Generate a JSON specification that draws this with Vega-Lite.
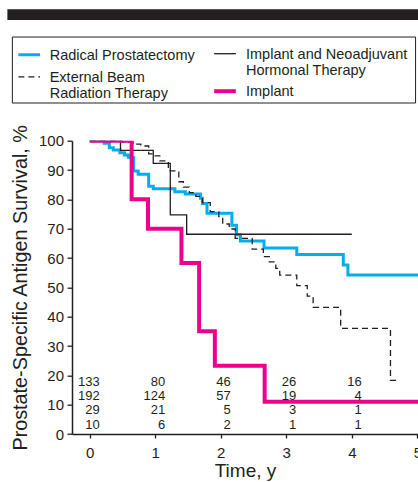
{
  "$schema": "https://vega.github.io/schema/vega-lite/v6.json",
  "width": 346,
  "height": 293.3,
  "autosize": {"type": "none"},
  "padding": {"left": 72, "top": 140.7, "right": 0, "bottom": 48},
  "config": {
    "font": "Liberation Sans",
    "view": {"stroke": null},
    "axis": {
      "grid": false,
      "domainColor": "#231f20",
      "domainWidth": 1.5,
      "tickColor": "#231f20",
      "tickWidth": 1.3,
      "labelColor": "#231f20",
      "labelFontSize": 15,
      "titleColor": "#231f20",
      "titleFontWeight": "normal"
    },
    "legend": {
      "orient": "none",
      "symbolType": "stroke",
      "symbolSize": 470,
      "labelFontSize": 14.5,
      "labelColor": "#231f20",
      "labelLimit": 400,
      "labelOffset": 8,
      "labelBaseline": "top",
      "labelLineHeight": 15.5,
      "padding": 0,
      "rowPadding": 3.8
    }
  },
  "datasets": {
    "curves": [
      {"s": "Radical Prostatectomy", "t": 0, "v": 100},
      {"s": "Radical Prostatectomy", "t": 0.22, "v": 99.1},
      {"s": "Radical Prostatectomy", "t": 0.3, "v": 97.6},
      {"s": "Radical Prostatectomy", "t": 0.36, "v": 96.8},
      {"s": "Radical Prostatectomy", "t": 0.46, "v": 95.9},
      {"s": "Radical Prostatectomy", "t": 0.53, "v": 95.1},
      {"s": "Radical Prostatectomy", "t": 0.59, "v": 94.4},
      {"s": "Radical Prostatectomy", "t": 0.67, "v": 89.7},
      {"s": "Radical Prostatectomy", "t": 0.74, "v": 88.6},
      {"s": "Radical Prostatectomy", "t": 0.9, "v": 84.5},
      {"s": "Radical Prostatectomy", "t": 0.97, "v": 83.6},
      {"s": "Radical Prostatectomy", "t": 1.3, "v": 82.6},
      {"s": "Radical Prostatectomy", "t": 1.46, "v": 81.8},
      {"s": "Radical Prostatectomy", "t": 1.69, "v": 80.4},
      {"s": "Radical Prostatectomy", "t": 1.72, "v": 78.6},
      {"s": "Radical Prostatectomy", "t": 1.79, "v": 75.3},
      {"s": "Radical Prostatectomy", "t": 2.17, "v": 71.2},
      {"s": "Radical Prostatectomy", "t": 2.24, "v": 67.9},
      {"s": "Radical Prostatectomy", "t": 2.3, "v": 65.8},
      {"s": "Radical Prostatectomy", "t": 2.66, "v": 63.4},
      {"s": "Radical Prostatectomy", "t": 3.16, "v": 61.2},
      {"s": "Radical Prostatectomy", "t": 3.87, "v": 57.6},
      {"s": "Radical Prostatectomy", "t": 3.94, "v": 54.2},
      {"s": "Radical Prostatectomy", "t": 5.5, "v": 54.2},
      {"s": "External Beam Radiation Therapy", "t": 0, "v": 100},
      {"s": "External Beam Radiation Therapy", "t": 0.5, "v": 99.5},
      {"s": "External Beam Radiation Therapy", "t": 0.66, "v": 98.8},
      {"s": "External Beam Radiation Therapy", "t": 0.78, "v": 98.2},
      {"s": "External Beam Radiation Therapy", "t": 0.9, "v": 95.5},
      {"s": "External Beam Radiation Therapy", "t": 1.0, "v": 94.8},
      {"s": "External Beam Radiation Therapy", "t": 1.07, "v": 93.1},
      {"s": "External Beam Radiation Therapy", "t": 1.2, "v": 89.7},
      {"s": "External Beam Radiation Therapy", "t": 1.36, "v": 86.0},
      {"s": "External Beam Radiation Therapy", "t": 1.43, "v": 84.2},
      {"s": "External Beam Radiation Therapy", "t": 1.52, "v": 82.3},
      {"s": "External Beam Radiation Therapy", "t": 1.62, "v": 81.0},
      {"s": "External Beam Radiation Therapy", "t": 1.72, "v": 78.9},
      {"s": "External Beam Radiation Therapy", "t": 1.84, "v": 75.8},
      {"s": "External Beam Radiation Therapy", "t": 1.97, "v": 74.1},
      {"s": "External Beam Radiation Therapy", "t": 2.03, "v": 71.6},
      {"s": "External Beam Radiation Therapy", "t": 2.13, "v": 69.9},
      {"s": "External Beam Radiation Therapy", "t": 2.22, "v": 66.7},
      {"s": "External Beam Radiation Therapy", "t": 2.48, "v": 63.0},
      {"s": "External Beam Radiation Therapy", "t": 2.65, "v": 60.5},
      {"s": "External Beam Radiation Therapy", "t": 2.74, "v": 58.7},
      {"s": "External Beam Radiation Therapy", "t": 2.84, "v": 56.5},
      {"s": "External Beam Radiation Therapy", "t": 2.9, "v": 54.2},
      {"s": "External Beam Radiation Therapy", "t": 3.16, "v": 50.6},
      {"s": "External Beam Radiation Therapy", "t": 3.32, "v": 47.0},
      {"s": "External Beam Radiation Therapy", "t": 3.41, "v": 43.2},
      {"s": "External Beam Radiation Therapy", "t": 3.83, "v": 36.0},
      {"s": "External Beam Radiation Therapy", "t": 4.59, "v": 18.3},
      {"s": "External Beam Radiation Therapy", "t": 4.7, "v": 18.3},
      {"s": "Implant and Neoadjuvant Hormonal Therapy", "t": 0, "v": 100},
      {"s": "Implant and Neoadjuvant Hormonal Therapy", "t": 0.47, "v": 96.7},
      {"s": "Implant and Neoadjuvant Hormonal Therapy", "t": 0.97, "v": 92.3},
      {"s": "Implant and Neoadjuvant Hormonal Therapy", "t": 1.23, "v": 74.7},
      {"s": "Implant and Neoadjuvant Hormonal Therapy", "t": 1.48, "v": 68.1},
      {"s": "Implant and Neoadjuvant Hormonal Therapy", "t": 4.0, "v": 68.1},
      {"s": "Implant", "t": 0, "v": 100},
      {"s": "Implant", "t": 0.64, "v": 80},
      {"s": "Implant", "t": 0.89, "v": 70},
      {"s": "Implant", "t": 1.4, "v": 58.3},
      {"s": "Implant", "t": 1.67, "v": 35},
      {"s": "Implant", "t": 1.91, "v": 23.3},
      {"s": "Implant", "t": 2.67, "v": 11},
      {"s": "Implant", "t": 5.5, "v": 11}
    ],
    "atrisk": [
      {"s": "Radical Prostatectomy", "t": 0, "n": 133},
      {"s": "Radical Prostatectomy", "t": 1, "n": 80},
      {"s": "Radical Prostatectomy", "t": 2, "n": 46},
      {"s": "Radical Prostatectomy", "t": 3, "n": 26},
      {"s": "Radical Prostatectomy", "t": 4, "n": 16},
      {"s": "Radical Prostatectomy", "t": 5, "n": 4},
      {"s": "External Beam Radiation Therapy", "t": 0, "n": 192},
      {"s": "External Beam Radiation Therapy", "t": 1, "n": 124},
      {"s": "External Beam Radiation Therapy", "t": 2, "n": 57},
      {"s": "External Beam Radiation Therapy", "t": 3, "n": 19},
      {"s": "External Beam Radiation Therapy", "t": 4, "n": 4},
      {"s": "External Beam Radiation Therapy", "t": 5, "n": 0},
      {"s": "Implant and Neoadjuvant Hormonal Therapy", "t": 0, "n": 29},
      {"s": "Implant and Neoadjuvant Hormonal Therapy", "t": 1, "n": 21},
      {"s": "Implant and Neoadjuvant Hormonal Therapy", "t": 2, "n": 5},
      {"s": "Implant and Neoadjuvant Hormonal Therapy", "t": 3, "n": 3},
      {"s": "Implant and Neoadjuvant Hormonal Therapy", "t": 4, "n": 1},
      {"s": "Implant and Neoadjuvant Hormonal Therapy", "t": 5, "n": 0},
      {"s": "Implant", "t": 0, "n": 10},
      {"s": "Implant", "t": 1, "n": 6},
      {"s": "Implant", "t": 2, "n": 2},
      {"s": "Implant", "t": 3, "n": 1},
      {"s": "Implant", "t": 4, "n": 1},
      {"s": "Implant", "t": 5, "n": 1}
    ]
  },
  "layer": [
    {
      "data": {"values": [{"part": "header bar"}]},
      "mark": {"type": "rect", "color": "#231f20", "clip": false},
      "encoding": {
        "x": {"datum": -1.256, "type": "quantitative", "scale": {"domain": [-0.27, 5.01]}},
        "x2": {"datum": 5.5},
        "y": {"datum": 144.8, "type": "quantitative", "scale": {"domain": [0, 100]}, "axis": null},
        "y2": {"datum": 141.15}
      }
    },
    {
      "data": {"values": [{"part": "legend frame"}]},
      "mark": {"type": "rect", "fill": null, "filled": false, "stroke": "#231f20", "strokeWidth": 1, "clip": false},
      "encoding": {
        "x": {"datum": -1.18, "type": "quantitative", "scale": {"domain": [-0.27, 5.01]}},
        "x2": {"datum": 4.973},
        "y": {"datum": 135.35, "type": "quantitative", "scale": {"domain": [0, 100]}, "axis": null},
        "y2": {"datum": 112.85}
      }
    },
    {
      "data": {"name": "curves"},
      "transform": [{"filter": {"field": "s", "oneOf": ["Radical Prostatectomy", "External Beam Radiation Therapy"]}}],
      "mark": {"type": "line", "interpolate": "step-after", "clip": true},
      "encoding": {
        "x": {
          "field": "t", "type": "quantitative",
          "scale": {"domain": [-0.27, 5.01]},
          "axis": {
            "title": "Time, y", "titleFontSize": 19, "titlePadding": 1,
            "values": [0, 1, 2, 3, 4, 5], "format": "d", "labelFlush": false,
            "tickSize": 4, "labelPadding": 7
          }
        },
        "y": {
          "field": "v", "type": "quantitative",
          "scale": {"domain": [0, 100]},
          "axis": {
            "title": "Prostate-Specific Antigen Survival, %", "titleFontSize": 19.8, "titlePadding": 8,
            "values": [0, 10, 20, 30, 40, 50, 60, 70, 80, 90, 100],
            "tickSize": 5, "labelPadding": 3.5
          }
        },
        "color": {
          "field": "s", "type": "nominal",
          "scale": {
            "domain": ["Radical Prostatectomy", "External Beam Radiation Therapy"],
            "range": ["#00aeef", "#231f20"]
          },
          "legend": {
            "title": null, "legendX": -55.3, "legendY": -98.5,
            "rowPadding": 3.2,
            "labelExpr": "datum.label == 'External Beam Radiation Therapy' ? ['External Beam', 'Radiation Therapy'] : datum.label",
            "encode": {"labels": {"update": {"dy": {"value": -6}}}}
          }
        },
        "strokeDash": {
          "field": "s", "type": "nominal",
          "scale": {
            "type": "ordinal",
            "domain": ["Radical Prostatectomy", "External Beam Radiation Therapy"],
            "range": [[1, 0], [6, 4]]
          }
        },
        "strokeWidth": {
          "field": "s", "type": "nominal",
          "scale": {
            "type": "ordinal",
            "domain": ["Radical Prostatectomy", "External Beam Radiation Therapy"],
            "range": [3, 1.3]
          }
        }
      }
    },
    {
      "data": {"name": "curves"},
      "transform": [{"filter": {"field": "s", "oneOf": ["Implant and Neoadjuvant Hormonal Therapy", "Implant"]}}],
      "mark": {"type": "line", "interpolate": "step-after", "clip": true},
      "encoding": {
        "x": {"field": "t", "type": "quantitative", "scale": {"domain": [-0.27, 5.01]}},
        "y": {"field": "v", "type": "quantitative", "scale": {"domain": [0, 100]}, "axis": null},
        "color": {
          "field": "s", "type": "nominal",
          "scale": {
            "domain": ["Implant and Neoadjuvant Hormonal Therapy", "Implant"],
            "range": ["#231f20", "#ec008c"]
          },
          "legend": {
            "title": null, "legendX": 140, "legendY": -98.5,
            "rowPadding": -1.2,
            "labelExpr": "datum.label == 'Implant and Neoadjuvant Hormonal Therapy' ? ['Implant and Neoadjuvant', 'Hormonal Therapy'] : datum.label",
            "encode": {"labels": {"update": {"dy": {"value": -6}}}}
          }
        },
        "strokeWidth": {
          "field": "s", "type": "nominal",
          "scale": {
            "type": "ordinal",
            "domain": ["Implant and Neoadjuvant Hormonal Therapy", "Implant"],
            "range": [1.3, 4]
          }
        }
      }
    },
    {
      "data": {"name": "atrisk"},
      "mark": {"type": "text", "fontSize": 13, "align": "right", "baseline": "middle", "dx": 10, "color": "#231f20"},
      "encoding": {
        "x": {"field": "t", "type": "quantitative", "scale": {"domain": [-0.27, 5.01]}},
        "y": {
          "field": "s", "type": "nominal", "axis": null,
          "scale": {
            "type": "point", "padding": 0, "range": [241, 284],
            "domain": ["Radical Prostatectomy", "External Beam Radiation Therapy", "Implant and Neoadjuvant Hormonal Therapy", "Implant"]
          }
        },
        "text": {"field": "n", "type": "quantitative"}
      }
    }
  ],
  "resolve": {
    "scale": {"y": "independent", "color": "independent", "strokeDash": "independent", "strokeWidth": "independent"},
    "legend": {"color": "independent", "strokeDash": "independent", "strokeWidth": "independent"}
  }
}
